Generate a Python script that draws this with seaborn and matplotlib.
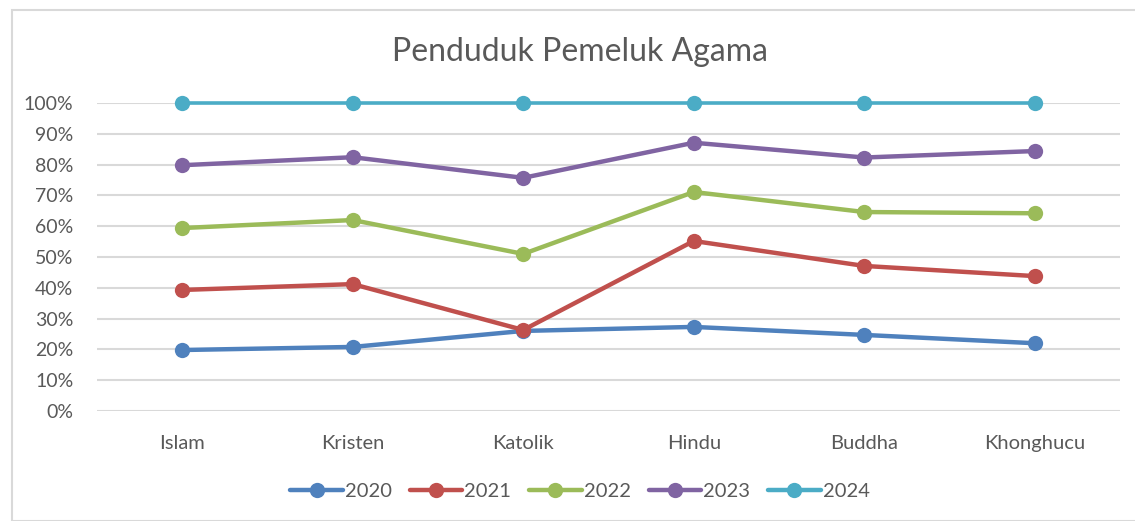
import numpy as np
import pandas as pd
import matplotlib
matplotlib.use("Agg")
import matplotlib.pyplot as plt
from matplotlib.patches import Rectangle
from matplotlib.ticker import PercentFormatter
import seaborn as sns

# ── data (cumulative share) ──
agama = ["Islam", "Kristen", "Katolik", "Hindu", "Buddha", "Khonghucu"]
tahun = ["2020", "2021", "2022", "2023", "2024"]
v2020 = [0.198, 0.208, 0.260, 0.273, 0.247, 0.220]
v2021 = [0.393, 0.412, 0.263, 0.552, 0.471, 0.438]
v2022 = [0.594, 0.620, 0.510, 0.711, 0.646, 0.642]
v2023 = [0.798, 0.824, 0.757, 0.871, 0.823, 0.844]
v2024 = [1.0, 1.0, 1.0, 1.0, 1.0, 1.0]
warna = ["#4F81BD", "#C0504D", "#9BBB59", "#8064A2", "#4BACC6"]

rows = []
for th, vals in zip(tahun, [v2020, v2021, v2022, v2023, v2024]):
    for ag, v in zip(agama, vals):
        rows.append({"Agama": ag, "Tahun": th, "Nilai": v})
df = pd.DataFrame(rows)

sns.set_style("white")
plt.rcParams["font.family"] = ["Lato", "DejaVu Sans"]

fig = plt.figure(figsize=(11.35, 5.21), dpi=100)
fig.patches.append(Rectangle((12 / 1135, 0), 1.0, 1 - 10 / 521, transform=fig.transFigure,
                             fill=False, edgecolor="#D9D9D9", lw=1.5))
ax = fig.add_axes([97 / 1135, 110 / 521, 1023 / 1135, 308 / 521])

sns.lineplot(data=df, x="Agama", y="Nilai", hue="Tahun", palette=warna, marker="o",
             markersize=11, markeredgewidth=0, linewidth=3.2, sort=False, ax=ax,
             legend=False)
for ln in ax.lines:
    ln.set_clip_on(False)
# 2024 line is a little thinner in the reference
ax.lines[-1].set_linewidth(2.6)

ax.set_xlim(-0.5, 5.5)
ax.set_ylim(0, 1.0)
ax.set_yticks(np.arange(0, 1.01, 0.1))
ax.yaxis.set_major_formatter(PercentFormatter(1.0, decimals=0))
ax.grid(axis="y", color="#D9D9D9", lw=1.5)
ax.set_axisbelow(True)
sns.despine(ax=ax, left=True, bottom=True)
ax.tick_params(axis="both", length=0, labelsize=14, colors="#595959")
ax.tick_params(axis="y", pad=17)
ax.tick_params(axis="x", labelsize=14.5, pad=17)
ax.set_xlabel("")
ax.set_ylabel("")

fig.text(0.511, 1 - 52 / 521, "Penduduk Pemeluk Agama", ha="center", va="center",
         fontsize=23, color="#595959")

handles = [plt.Line2D([], [], color=c, lw=3.2, marker="o", markersize=11, markeredgewidth=0)
           for c in warna]
fig.legend(handles, tahun, loc="center", bbox_to_anchor=(0.511, 30 / 521), ncol=5,
           frameon=False, fontsize=14.5, handlelength=2.6, columnspacing=0.9,
           handletextpad=0.1, labelcolor="#595959")

fig.savefig("out.png", dpi=100, facecolor="white")
